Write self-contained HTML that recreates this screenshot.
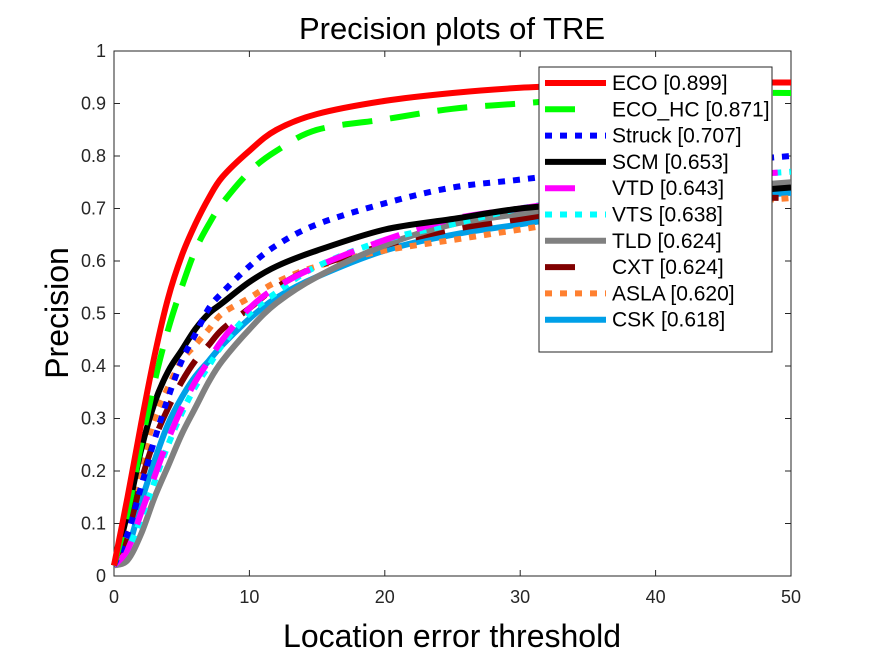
<!DOCTYPE html>
<html><head><meta charset="utf-8"><style>
body{margin:0;background:#fff;}
svg{font-family:"Liberation Sans",sans-serif;}
</style></head><body>
<svg id="chart" width="875" height="656" viewBox="0 0 875 656" xmlns="http://www.w3.org/2000/svg">
<rect width="875" height="656" fill="#fff"/>
<g id="axes"></g>
<g id="series" clip-path="url(#clip)"></g>
<defs><clipPath id="clip"><rect x="110" y="51" width="681" height="530"/></clipPath></defs>
<g id="legend"></g>
<text x="452" y="39" font-size="31" text-anchor="middle">Precision plots of TRE</text>
<text x="452" y="647" font-size="32" text-anchor="middle">Location error threshold</text>
<text x="0" y="0" font-size="32" text-anchor="middle" transform="translate(68,313) rotate(-90)">Precision</text>
</svg>
<script>
const thresholds=[0,1,2,3,4,5,6,7,8,10,12,15,20,25,30,35,40,45,50];
const names=["ECO [0.899]","ECO_HC [0.871]","Struck [0.707]","SCM [0.653]","VTD [0.643]","VTS [0.638]","TLD [0.624]","CXT [0.624]","ASLA [0.620]","CSK [0.618]"];
const eco=[0.02,0.15,0.29,0.42,0.53,0.61,0.67,0.72,0.76,0.81,0.85,0.88,0.905,0.92,0.93,0.935,0.94,0.94,0.94];
const ecoHc=[0.02,0.12,0.25,0.37,0.47,0.55,0.62,0.67,0.71,0.77,0.81,0.85,0.87,0.89,0.90,0.91,0.915,0.92,0.92];
const struck=[0.02,0.08,0.17,0.26,0.34,0.41,0.46,0.51,0.54,0.59,0.63,0.67,0.71,0.74,0.755,0.77,0.78,0.79,0.80];
const scm=[0.02,0.12,0.24,0.33,0.39,0.43,0.47,0.50,0.52,0.56,0.59,0.62,0.66,0.68,0.70,0.71,0.72,0.73,0.74];
const vtd=[0.02,0.05,0.12,0.19,0.26,0.32,0.37,0.41,0.45,0.51,0.55,0.59,0.64,0.68,0.70,0.72,0.74,0.76,0.77];
const vts=[0.02,0.05,0.11,0.18,0.25,0.31,0.36,0.40,0.44,0.50,0.54,0.59,0.64,0.67,0.70,0.72,0.74,0.76,0.77];
const tld=[0.02,0.03,0.08,0.15,0.21,0.27,0.32,0.37,0.41,0.47,0.52,0.57,0.63,0.67,0.69,0.71,0.73,0.74,0.75];
const cxt=[0.02,0.08,0.18,0.26,0.32,0.37,0.41,0.44,0.47,0.51,0.55,0.59,0.63,0.66,0.68,0.70,0.71,0.72,0.72];
const asla=[0.02,0.10,0.21,0.30,0.36,0.41,0.44,0.47,0.50,0.53,0.56,0.59,0.62,0.64,0.66,0.68,0.70,0.71,0.72];
const csk=[0.02,0.05,0.14,0.22,0.29,0.34,0.38,0.41,0.44,0.49,0.53,0.57,0.62,0.65,0.67,0.69,0.71,0.72,0.73];
const xTicks=[0,10,20,30,40,50];
const yTicks=[0,0.1,0.2,0.3,0.4,0.5,0.6,0.7,0.8,0.9,1];
const yTickLabels=["0","0.1","0.2","0.3","0.4","0.5","0.6","0.7","0.8","0.9","1"];

const X0=114,X1=791,Y0=576,Y1=51;
const xs=v=>X0+(v/50)*(X1-X0);
const ys=v=>Y0-v*(Y0-Y1);
const NS="http://www.w3.org/2000/svg";
function mk(tag,attrs,parent){const e=document.createElementNS(NS,tag);for(const k in attrs)e.setAttribute(k,attrs[k]);parent.appendChild(e);return e;}
function smooth(pts){
  let d='M'+pts[0][0].toFixed(1)+','+pts[0][1].toFixed(1);
  for(let i=0;i<pts.length-1;i++){
    const p0=pts[i-1]||pts[i],p1=pts[i],p2=pts[i+1],p3=pts[i+2]||p2;
    const c1=[p1[0]+(p2[0]-p0[0])/6,p1[1]+(p2[1]-p0[1])/6];
    const c2=[p2[0]-(p3[0]-p1[0])/6,p2[1]-(p3[1]-p1[1])/6];
    d+='C'+c1[0].toFixed(1)+','+c1[1].toFixed(1)+' '+c2[0].toFixed(1)+','+c2[1].toFixed(1)+' '+p2[0].toFixed(1)+','+p2[1].toFixed(1);
  }
  return d;
}
const axes=document.getElementById('axes');
const box=mk('rect',{x:X0,y:Y1,width:X1-X0,height:Y0-Y1,fill:'none',stroke:'#262626','stroke-width':1},axes);


xTicks.forEach(t=>{
  const x=xs(t);
  mk('line',{x1:x,x2:x,y1:Y0,y2:Y0-6,stroke:'#262626'},axes);
  mk('line',{x1:x,x2:x,y1:Y1,y2:Y1+6,stroke:'#262626'},axes);
  const tx=mk('text',{x:x,y:Y0+27,'font-size':18,'text-anchor':'middle',fill:'#262626'},axes);
  tx.textContent=t;
  
  
});
yTicks.forEach((t,i)=>{
  const y=ys(t);
  mk('line',{x1:X0,x2:X0+6,y1:y,y2:y,stroke:'#262626'},axes);
  mk('line',{x1:X1,x2:X1-6,y1:y,y2:y,stroke:'#262626'},axes);
  const tx=mk('text',{x:X0-8,y:y+6,'font-size':18,'text-anchor':'end',fill:'#262626'},axes);
  tx.textContent=yTickLabels[i];
  
  
});
const data=[eco,ecoHc,struck,scm,vtd,vts,tld,cxt,asla,csk];
const colors=["#ff0000","#00ff00","#0000ff","#000000","#ff00ff","#00ffff","#808080","#800000","#ff8030","#00a0e8"];
const dashes=["none","30 18","7 8","none","30 18","7 8","none","30 18","7 8","none"];
const series=document.getElementById('series');
for(let s=data.length-1;s>=0;s--){
  const pts=data[s].map((v,i)=>[xs(thresholds[i]),ys(v)]);
  const p=mk('path',{d:smooth(pts),fill:'none',stroke:colors[s],'stroke-width':6,'stroke-dasharray':dashes[s],'stroke-linejoin':'round'},series);
  
  
}
const leg=document.getElementById('legend');
const lb=mk('rect',{x:539,y:67,width:233,height:285,fill:'#fff',stroke:'#262626','stroke-width':1},leg);


names.forEach((n,i)=>{
  const y=83+i*26.3;
  const l=mk('line',{x1:545,x2:606,y1:y,y2:y,stroke:colors[i],'stroke-width':6,'stroke-dasharray':dashes[i]==="30 18"?"30 100":dashes[i]},leg);
  
  
  const t=mk('text',{x:612,y:y+7,'font-size':21,fill:'#000'},leg);
  t.textContent=n;
  
  
});
</script>
</body></html>
